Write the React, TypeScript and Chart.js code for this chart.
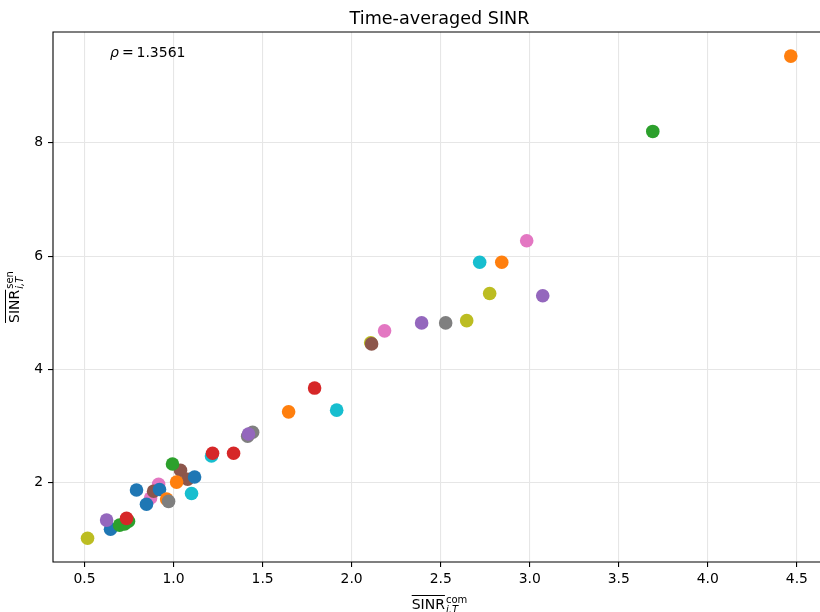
import React, { useEffect, useRef } from "react";
import { Chart, registerables } from "chart.js";

Chart.register(...registerables);

// ---- data (x = SINR com, y = SINR sen) ----
const blueX = [0.646, 0.792, 0.848, 0.921, 1.118];
const blueY = [1.18, 1.87, 1.62, 1.88, 2.10];
const orangeX = [0.961, 1.017, 1.646, 2.843, 4.466];
const orangeY = [1.71, 2.01, 3.25, 5.89, 9.53];
const greenX = [0.697, 0.725, 0.747, 0.994, 3.691];
const greenY = [1.25, 1.27, 1.32, 2.33, 8.20];
const redX = [0.736, 1.219, 1.337, 1.792];
const redY = [1.37, 2.52, 2.52, 3.67];
const purpleX = [0.624, 1.421, 2.393, 3.073];
const purpleY = [1.34, 2.86, 4.82, 5.30];
const brownX = [0.888, 1.039, 1.079, 2.112];
const brownY = [1.85, 2.22, 2.06, 4.45];
const pinkX = [0.871, 0.916, 2.185, 2.983];
const pinkY = [1.73, 1.97, 4.68, 6.27];
const grayX = [0.972, 1.416, 1.444, 2.528];
const grayY = [1.67, 2.82, 2.89, 4.82];
const oliveX = [0.517, 2.107, 2.646, 2.775];
const oliveY = [1.02, 4.47, 4.86, 5.34];
const cyanX = [1.101, 1.213, 1.916, 2.719];
const cyanY = [1.81, 2.47, 3.28, 5.89];

const xTicks = [0.5, 1.0, 1.5, 2.0, 2.5, 3.0, 3.5, 4.0, 4.5];
const yTicks = [2, 4, 6, 8];
const titleText = "Time-averaged SINR";
const rhoValue = "1.3561";

const FONT = '"DejaVu Sans", sans-serif';

function pts(xs: number[], ys: number[]) {
  return xs.map((x, i) => ({ x, y: ys[i] }));
}

// draw order chosen to mimic overlaps
const series = [
  { c: "#d62728", xs: redX, ys: redY },
  { c: "#9467bd", xs: purpleX, ys: purpleY },
  { c: "#7f7f7f", xs: grayX, ys: grayY },
  { c: "#ff7f0e", xs: orangeX, ys: orangeY },
  { c: "#2ca02c", xs: greenX, ys: greenY },
  { c: "#1f77b4", xs: blueX, ys: blueY },
  { c: "#8c564b", xs: brownX, ys: brownY },
  { c: "#e377c2", xs: pinkX, ys: pinkY },
  { c: "#bcbd22", xs: oliveX, ys: oliveY },
  { c: "#17becf", xs: cyanX, ys: cyanY },
];

function drawMathLabel(
  ctx: CanvasRenderingContext2D,
  cx: number,
  baseY: number,
  base: string,
  sub: string,
  sup: string
) {
  ctx.font = `14px ${FONT}`;
  const wB = ctx.measureText(base).width;
  ctx.font = `10px ${FONT}`;
  const wSup = ctx.measureText(sup).width;
  ctx.font = `italic 10px ${FONT}`;
  const wSub = ctx.measureText(sub).width;
  const total = wB + 1 + Math.max(wSup, wSub);
  const x0 = cx - total / 2;
  ctx.fillStyle = "#000";
  ctx.textAlign = "left";
  ctx.textBaseline = "alphabetic";
  ctx.font = `14px ${FONT}`;
  ctx.fillText(base, x0, baseY);
  ctx.strokeStyle = "#000";
  ctx.lineWidth = 1;
  ctx.beginPath();
  ctx.moveTo(x0, baseY - 13.5);
  ctx.lineTo(x0 + wB, baseY - 13.5);
  ctx.stroke();
  ctx.font = `10px ${FONT}`;
  ctx.fillText(sup, x0 + wB + 1, baseY - 6);
  ctx.font = `italic 10px ${FONT}`;
  ctx.fillText(sub, x0 + wB + 1, baseY + 4);
}

const decorPlugin = {
  id: "decor",
  afterDraw(chart: any) {
    const ctx: CanvasRenderingContext2D = chart.ctx;
    const a = chart.chartArea;
    ctx.save();
    // spines (right spine lies beyond the canvas)
    ctx.strokeStyle = "#000";
    ctx.lineWidth = 1.1;
    ctx.beginPath();
    ctx.moveTo(a.right + 10, a.top);
    ctx.lineTo(a.left, a.top);
    ctx.lineTo(a.left, a.bottom);
    ctx.lineTo(a.right + 10, a.bottom);
    ctx.stroke();

    const cx = 439.5;
    // title
    ctx.fillStyle = "#000";
    ctx.font = `17.6px ${FONT}`;
    ctx.textAlign = "center";
    ctx.textBaseline = "alphabetic";
    ctx.fillText(titleText, cx, 24);

    // rho annotation
    ctx.textAlign = "left";
    ctx.font = `italic 14px ${FONT}`;
    ctx.fillText("\u03C1", 110, 57);
    ctx.font = `14px ${FONT}`;
    ctx.fillText("=", 122, 57);
    ctx.fillText(rhoValue, 136.5, 57);

    // x label
    drawMathLabel(ctx, cx, 609, "SINR", "i,T", "com");

    // y label (rotated)
    ctx.save();
    ctx.translate(19, 297);
    ctx.rotate(-Math.PI / 2);
    drawMathLabel(ctx, 0, 0, "SINR", "i,T", "sen");
    ctx.restore();

    ctx.restore();
  },
};

export default function App() {
  const ref = useRef<HTMLCanvasElement | null>(null);
  useEffect(() => {
    if (!ref.current) return;
    const chart = new Chart(ref.current, {
      type: "scatter",
      data: {
        datasets: series.map((s) => ({
          data: pts(s.xs, s.ys),
          backgroundColor: s.c,
          borderColor: s.c,
          borderWidth: 0,
          pointRadius: 6.8,
          pointHoverRadius: 6.8,
        })),
      },
      options: {
        responsive: false,
        animation: false,
        devicePixelRatio: 1,
        layout: { autoPadding: false, padding: { left: 0, right: 0, top: 32, bottom: 0 } },
        plugins: {
          legend: { display: false },
          title: { display: false },
          tooltip: { enabled: false },
        },
        scales: {
          x: {
            type: "linear",
            min: 0.323,
            max: 4.63,
            afterFit: (s: any) => {
              s.height = 50;
              s.paddingLeft = 0;
              s.paddingRight = 0;
            },
            afterBuildTicks: (s: any) => {
              s.ticks = xTicks.map((v) => ({ value: v }));
            },
            border: { display: false },
            grid: {
              color: "#e6e6e6",
              lineWidth: 1.1,
              drawTicks: true,
              tickLength: 5,
              tickColor: "#000",
              tickWidth: 1.1,
            },
            ticks: {
              color: "#000",
              padding: 4,
              font: { family: FONT, size: 13.9 },
              maxRotation: 0,
              callback: (v: any) => Number(v).toFixed(1),
            },
          },
          y: {
            type: "linear",
            min: 0.6,
            max: 9.955,
            afterFit: (s: any) => {
              s.width = 53;
              s.paddingTop = 0;
              s.paddingBottom = 0;
            },
            afterBuildTicks: (s: any) => {
              s.ticks = yTicks.map((v) => ({ value: v }));
            },
            border: { display: false },
            grid: {
              color: "#e6e6e6",
              lineWidth: 1.1,
              drawTicks: true,
              tickLength: 5,
              tickColor: "#000",
              tickWidth: 1.1,
            },
            ticks: {
              color: "#000",
              padding: 5,
              font: { family: FONT, size: 13.9 },
              callback: (v: any) => String(v),
            },
          },
        },
      },
      plugins: [decorPlugin],
    });
    return () => chart.destroy();
  }, []);
  return (
    <div style={{ position: "absolute", left: 0, top: 0, width: 820, height: 612, background: "#fff" }}>
      <canvas ref={ref} width={820} height={612} style={{ display: "block" }} />
    </div>
  );
}
